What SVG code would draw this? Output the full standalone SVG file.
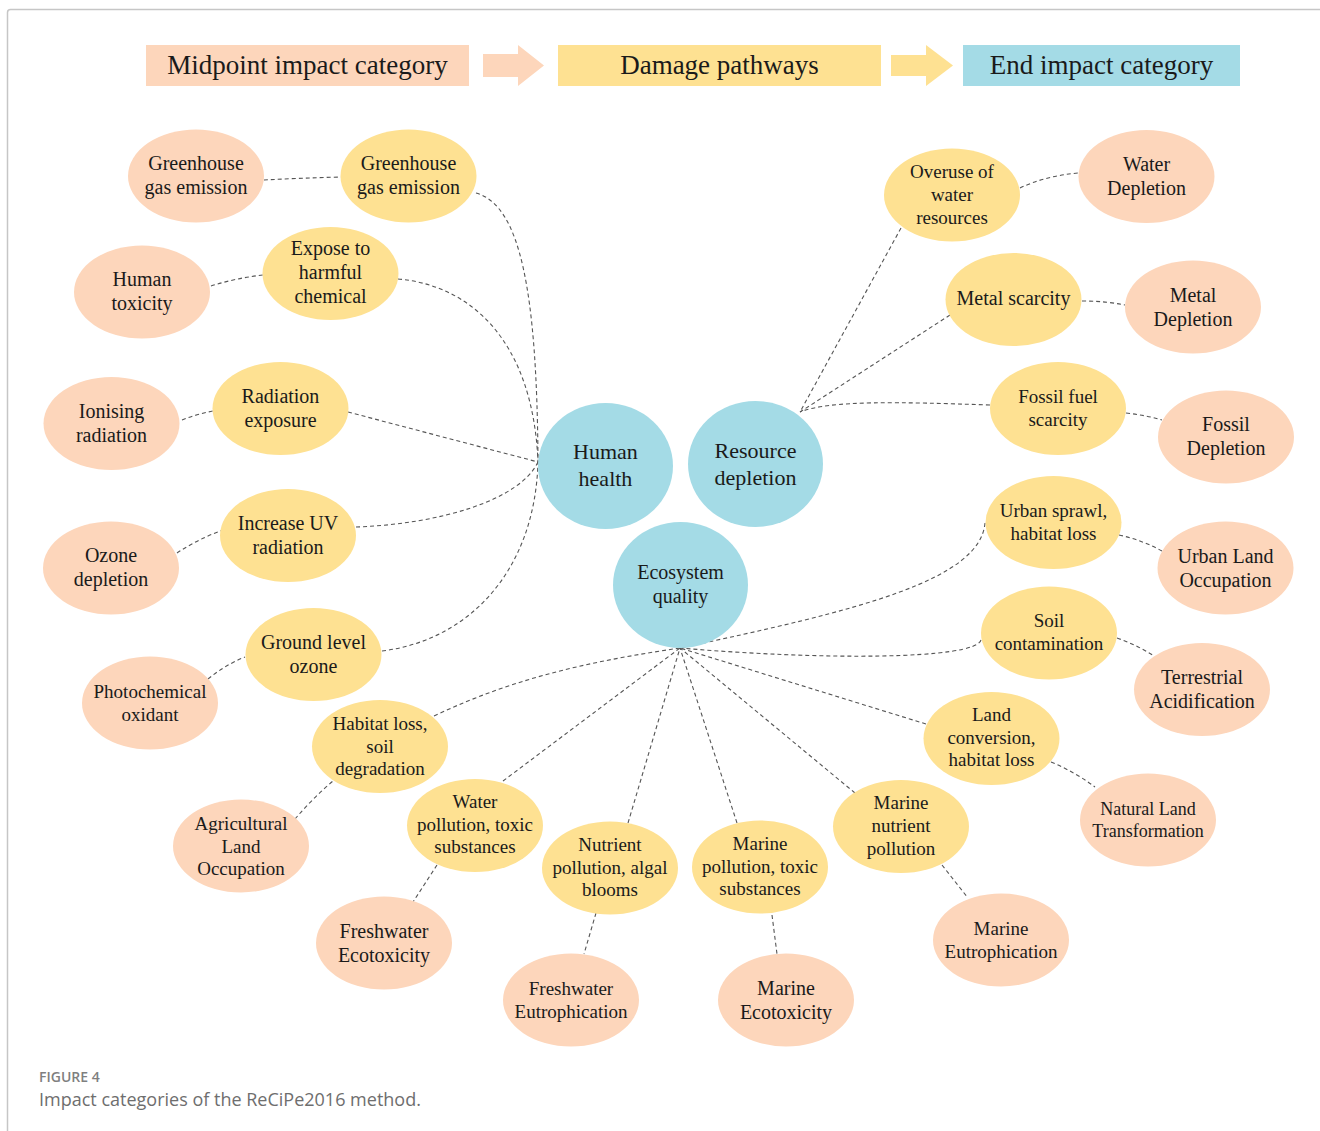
<svg xmlns="http://www.w3.org/2000/svg" width="1320" height="1131" viewBox="0 0 1320 1131">
  <style>
    .peach { fill: #fdd6bb; }
    .yellow { fill: #fee192; }
    .blue { fill: #a4dbe6; }
    text { font-family: "Liberation Serif", "Times New Roman", serif; fill: #1a1a1a; text-anchor: middle; }
    .n20 { font-size: 20px; }
    .n19 { font-size: 19px; }
    .n18 { font-size: 18px; }
    .hub { font-size: 22px; }
    .head { font-size: 27px; }
    .link { fill: none; stroke: #555; stroke-width: 1.1; stroke-dasharray: 4 3; }
    .cap1 { font-family: "Open Sans", "Liberation Sans", sans-serif; font-size: 14px; font-weight: 600; fill: #7f7f7f; text-anchor: start; }
    .cap2 { font-family: "Open Sans", "Liberation Sans", sans-serif; font-size: 18px; fill: #6e6e6e; text-anchor: start; }
  </style>

  <rect width="1320" height="1131" fill="#ffffff"/>
  <!-- frame -->
  <path d="M7.5,1131 V12.5 Q7.5,9.5 10.5,9.5 H1320" fill="none" stroke="#c6c6c6" stroke-width="1.5"/>

  <!-- legend header -->
  <g id="legend">
    <rect class="peach" x="146" y="45" width="323" height="41"/>
    <text class="head" x="307.5" y="74">Midpoint impact category</text>
    <path class="peach" d="M483,54 H518 V45 L544,65.5 L518,86 V77 H483 Z"/>
    <rect class="yellow" x="558" y="45" width="323" height="41"/>
    <text class="head" x="719.5" y="74">Damage pathways</text>
    <path class="yellow" d="M891,55 H926 V45 L953,65.5 L926,86 V76 H891 Z"/>
    <rect class="blue" x="963" y="45" width="277" height="41"/>
    <text class="head" x="1101.5" y="74">End impact category</text>
  </g>

  <!-- connectors -->
  <g id="connectors">
    <!-- to Human health -->
    <path class="link" d="M476,193 C520,205 537,290 538,462"/>
    <path class="link" d="M398,279 C470,285 533,340 538,462"/>
    <path class="link" d="M348,412 L538,462"/>
    <path class="link" d="M356,527 C440,524 520,500 538,462"/>
    <path class="link" d="M382,651 C470,640 535,570 538,462"/>
    <!-- to Resource depletion -->
    <path class="link" d="M901,228 L800,412"/>
    <path class="link" d="M950,315 L800,412"/>
    <path class="link" d="M990,405 C900,402 830,400 800,412"/>
    <!-- to Ecosystem quality -->
    <path class="link" d="M985,523 C980,580 860,610 680,648"/>
    <path class="link" d="M981,640 C975,660 820,660 680,648"/>
    <path class="link" d="M926,724 L680,648"/>
    <path class="link" d="M855,793 L680,648"/>
    <path class="link" d="M737,823 L680,648"/>
    <path class="link" d="M628,823 L680,648"/>
    <path class="link" d="M503,781 L680,648"/>
    <path class="link" d="M434,716 C520,675 600,660 680,648"/>
    <!-- midpoint to pathway -->
    <path class="link" d="M264,180 Q300,178 341,177"/>
    <path class="link" d="M211,286 Q236,278 263,275"/>
    <path class="link" d="M182,420 Q197,414 213,411"/>
    <path class="link" d="M177,553 Q198,539 223,530"/>
    <path class="link" d="M208,679 Q225,665 245,657"/>
    <path class="link" d="M295,819 Q312,799 333,781"/>
    <path class="link" d="M437,865 L413,902"/>
    <path class="link" d="M596,913 L584,954"/>
    <path class="link" d="M772,915 L777,954"/>
    <path class="link" d="M942,865 L968,898"/>
    <path class="link" d="M1051,762 Q1075,772 1095,787"/>
    <path class="link" d="M1117,638 Q1137,645 1154,656"/>
    <path class="link" d="M1119,535 Q1142,540 1162,551"/>
    <path class="link" d="M1126,413 Q1145,415 1162,420"/>
    <path class="link" d="M1082,301 Q1105,301 1125,305"/>
    <path class="link" d="M1020,188 Q1045,176 1078,173"/>
  </g>

  <!-- end categories -->
  <g id="hub-human-health">
    <ellipse class="blue" cx="605.5" cy="466" rx="67.5" ry="63"/>
    <text class="hub" x="605.5" y="459">Human</text>
    <text class="hub" x="605.5" y="486">health</text>
  </g>
  <g id="hub-resource-depletion">
    <ellipse class="blue" cx="755.5" cy="464" rx="67.5" ry="63"/>
    <text class="hub" x="755.5" y="458">Resource</text>
    <text class="hub" x="755.5" y="485">depletion</text>
  </g>
  <g id="hub-ecosystem-quality">
    <ellipse class="blue" cx="680.5" cy="585" rx="67.5" ry="63"/>
    <text class="n20" x="680.5" y="579">Ecosystem</text>
    <text class="n20" x="680.5" y="603">quality</text>
  </g>

  <!-- damage pathways -->
  <g id="path-ghg">
    <ellipse class="yellow" cx="408.5" cy="176" rx="68" ry="46.5"/>
    <text class="n20" x="408.5" y="170">Greenhouse</text>
    <text class="n20" x="408.5" y="194">gas emission</text>
  </g>
  <g id="path-expose">
    <ellipse class="yellow" cx="330.5" cy="273.5" rx="68" ry="46.5"/>
    <text class="n20" x="330.5" y="255">Expose to</text>
    <text class="n20" x="330.5" y="279">harmful</text>
    <text class="n20" x="330.5" y="303">chemical</text>
  </g>
  <g id="path-radiation">
    <ellipse class="yellow" cx="280.5" cy="408.5" rx="68" ry="46.5"/>
    <text class="n20" x="280.5" y="403">Radiation</text>
    <text class="n20" x="280.5" y="427">exposure</text>
  </g>
  <g id="path-uv">
    <ellipse class="yellow" cx="288" cy="535.5" rx="68" ry="46.5"/>
    <text class="n20" x="288" y="530">Increase UV</text>
    <text class="n20" x="288" y="554">radiation</text>
  </g>
  <g id="path-ground-ozone">
    <ellipse class="yellow" cx="313.5" cy="654.5" rx="68" ry="46.5"/>
    <text class="n20" x="313.5" y="649">Ground level</text>
    <text class="n20" x="313.5" y="673">ozone</text>
  </g>
  <g id="path-habitat-soil">
    <ellipse class="yellow" cx="380" cy="746.5" rx="68" ry="46.5"/>
    <text class="n19" x="380" y="730">Habitat loss,</text>
    <text class="n19" x="380" y="752.5">soil</text>
    <text class="n19" x="380" y="775">degradation</text>
  </g>
  <g id="path-water-pollution">
    <ellipse class="yellow" cx="475" cy="825.5" rx="68" ry="46.5"/>
    <text class="n19" x="475" y="808">Water</text>
    <text class="n19" x="475" y="830.5">pollution, toxic</text>
    <text class="n19" x="475" y="853">substances</text>
  </g>
  <g id="path-nutrient">
    <ellipse class="yellow" cx="610" cy="868" rx="68" ry="46.5"/>
    <text class="n19" x="610" y="851">Nutrient</text>
    <text class="n19" x="610" y="873.5">pollution, algal</text>
    <text class="n19" x="610" y="896">blooms</text>
  </g>
  <g id="path-marine-pollution">
    <ellipse class="yellow" cx="760" cy="867" rx="68" ry="46.5"/>
    <text class="n19" x="760" y="850">Marine</text>
    <text class="n19" x="760" y="872.5">pollution, toxic</text>
    <text class="n19" x="760" y="895">substances</text>
  </g>
  <g id="path-marine-nutrient">
    <ellipse class="yellow" cx="901" cy="826.5" rx="68" ry="46.5"/>
    <text class="n19" x="901" y="809">Marine</text>
    <text class="n19" x="901" y="832">nutrient</text>
    <text class="n19" x="901" y="855">pollution</text>
  </g>
  <g id="path-land-conversion">
    <ellipse class="yellow" cx="991.5" cy="738.5" rx="68" ry="46.5"/>
    <text class="n19" x="991.5" y="721">Land</text>
    <text class="n19" x="991.5" y="743.5">conversion,</text>
    <text class="n19" x="991.5" y="766">habitat loss</text>
  </g>
  <g id="path-soil">
    <ellipse class="yellow" cx="1049" cy="633" rx="68" ry="46.5"/>
    <text class="n19" x="1049" y="627">Soil</text>
    <text class="n19" x="1049" y="650">contamination</text>
  </g>
  <g id="path-urban-sprawl">
    <ellipse class="yellow" cx="1053.5" cy="522.5" rx="68" ry="46.5"/>
    <text class="n19" x="1053.5" y="517">Urban sprawl,</text>
    <text class="n19" x="1053.5" y="540">habitat loss</text>
  </g>
  <g id="path-fossil-fuel">
    <ellipse class="yellow" cx="1058" cy="408.5" rx="68" ry="46.5"/>
    <text class="n19" x="1058" y="403">Fossil fuel</text>
    <text class="n19" x="1058" y="426">scarcity</text>
  </g>
  <g id="path-metal">
    <ellipse class="yellow" cx="1013.5" cy="299.5" rx="68" ry="46.5"/>
    <text class="n20" x="1013.5" y="305">Metal scarcity</text>
  </g>
  <g id="path-water-overuse">
    <ellipse class="yellow" cx="952" cy="195" rx="68" ry="46.5"/>
    <text class="n19" x="952" y="178">Overuse of</text>
    <text class="n19" x="952" y="201">water</text>
    <text class="n19" x="952" y="224">resources</text>
  </g>

  <!-- midpoint categories -->
  <g id="mid-ghg">
    <ellipse class="peach" cx="196" cy="176" rx="68" ry="46.5"/>
    <text class="n20" x="196" y="170">Greenhouse</text>
    <text class="n20" x="196" y="194">gas emission</text>
  </g>
  <g id="mid-human-toxicity">
    <ellipse class="peach" cx="142" cy="292" rx="68" ry="46.5"/>
    <text class="n20" x="142" y="286">Human</text>
    <text class="n20" x="142" y="310">toxicity</text>
  </g>
  <g id="mid-ionising">
    <ellipse class="peach" cx="111.5" cy="423.5" rx="68" ry="46.5"/>
    <text class="n20" x="111.5" y="417.5">Ionising</text>
    <text class="n20" x="111.5" y="441.5">radiation</text>
  </g>
  <g id="mid-ozone">
    <ellipse class="peach" cx="111" cy="568" rx="68" ry="46.5"/>
    <text class="n20" x="111" y="562">Ozone</text>
    <text class="n20" x="111" y="586">depletion</text>
  </g>
  <g id="mid-photochemical">
    <ellipse class="peach" cx="150" cy="703" rx="68" ry="46.5"/>
    <text class="n19" x="150" y="698">Photochemical</text>
    <text class="n19" x="150" y="721">oxidant</text>
  </g>
  <g id="mid-agricultural">
    <ellipse class="peach" cx="241" cy="846" rx="68" ry="46.5"/>
    <text class="n19" x="241" y="830">Agricultural</text>
    <text class="n19" x="241" y="852.5">Land</text>
    <text class="n19" x="241" y="875">Occupation</text>
  </g>
  <g id="mid-freshwater-ecotox">
    <ellipse class="peach" cx="384" cy="943" rx="68" ry="46.5"/>
    <text class="n20" x="384" y="938">Freshwater</text>
    <text class="n20" x="384" y="962">Ecotoxicity</text>
  </g>
  <g id="mid-freshwater-eutro">
    <ellipse class="peach" cx="571" cy="1000" rx="68" ry="46.5"/>
    <text class="n19" x="571" y="995">Freshwater</text>
    <text class="n19" x="571" y="1018">Eutrophication</text>
  </g>
  <g id="mid-marine-ecotox">
    <ellipse class="peach" cx="786" cy="1000" rx="68" ry="46.5"/>
    <text class="n20" x="786" y="995">Marine</text>
    <text class="n20" x="786" y="1019">Ecotoxicity</text>
  </g>
  <g id="mid-marine-eutro">
    <ellipse class="peach" cx="1001" cy="940" rx="68" ry="46.5"/>
    <text class="n19" x="1001" y="935">Marine</text>
    <text class="n19" x="1001" y="958">Eutrophication</text>
  </g>
  <g id="mid-natural-land">
    <ellipse class="peach" cx="1148" cy="820" rx="68" ry="46.5"/>
    <text class="n18" x="1148" y="815">Natural Land</text>
    <text class="n18" x="1148" y="837">Transformation</text>
  </g>
  <g id="mid-terrestrial">
    <ellipse class="peach" cx="1202" cy="689.5" rx="68" ry="46.5"/>
    <text class="n20" x="1202" y="683.5">Terrestrial</text>
    <text class="n20" x="1202" y="707.5">Acidification</text>
  </g>
  <g id="mid-urban-land">
    <ellipse class="peach" cx="1225.5" cy="568" rx="68" ry="46.5"/>
    <text class="n20" x="1225.5" y="563">Urban Land</text>
    <text class="n20" x="1225.5" y="587">Occupation</text>
  </g>
  <g id="mid-fossil">
    <ellipse class="peach" cx="1226" cy="437" rx="68" ry="46.5"/>
    <text class="n20" x="1226" y="431">Fossil</text>
    <text class="n20" x="1226" y="455">Depletion</text>
  </g>
  <g id="mid-metal">
    <ellipse class="peach" cx="1193" cy="307" rx="68" ry="46.5"/>
    <text class="n20" x="1193" y="302">Metal</text>
    <text class="n20" x="1193" y="326">Depletion</text>
  </g>
  <g id="mid-water">
    <ellipse class="peach" cx="1146.5" cy="176.5" rx="68" ry="46.5"/>
    <text class="n20" x="1146.5" y="171">Water</text>
    <text class="n20" x="1146.5" y="195">Depletion</text>
  </g>

  <!-- caption -->
  <text class="cap1" x="39" y="1082">FIGURE 4</text>
  <text class="cap2" x="39" y="1106">Impact categories of the ReCiPe2016 method.</text>
</svg>
